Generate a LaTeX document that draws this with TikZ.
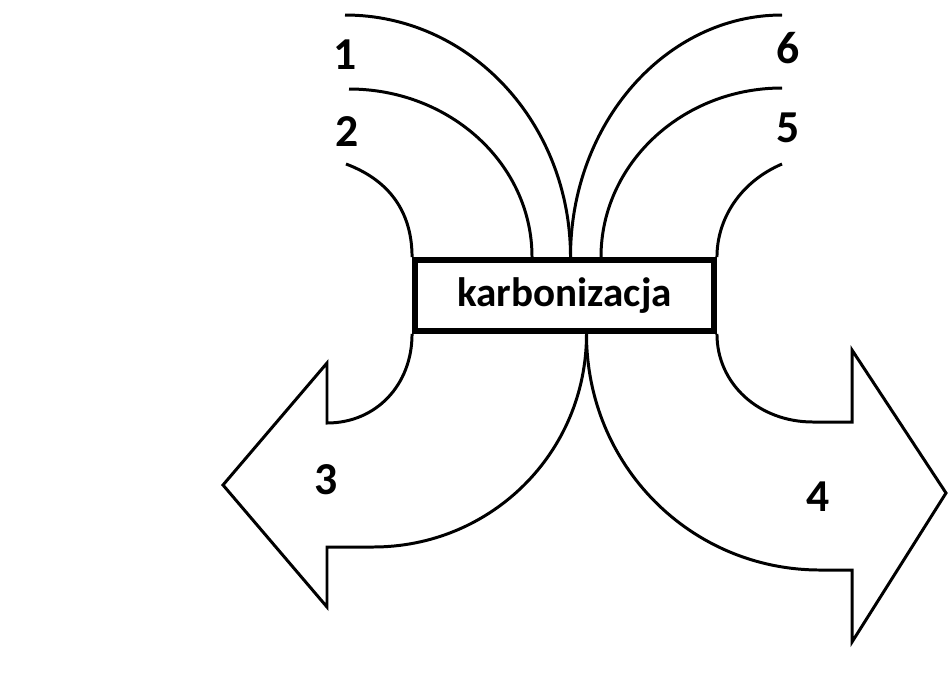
\documentclass[tikz,border=0pt]{standalone}
\usepackage{fontspec}
\setmainfont{Carlito}
\usetikzlibrary{positioning}

\begin{document}
\begin{tikzpicture}[
  x=0.02cm, y=-0.02cm,
  every node/.style={
    font=\fontsize{26}{30}\selectfont\bfseries, inner sep=0pt
  },
  procbox/.style={draw, line width=3.4pt, fill=white,
    minimum width=5.98cm, minimum height=1.42cm,
    font=\fontsize{23.4}{27}\selectfont\bfseries},
  flow/.style={draw, line width=1.7pt, line join=miter}
]
\useasboundingbox (0,0) rectangle (949,677);

\node[procbox] (kb) at (564.5,295.5) {karbonizacja};

\coordinate (l1) at (345,15);
\coordinate (l2) at (349,89);
\coordinate (l3) at (346,164);
\coordinate (r1) at (782,15);
\coordinate (r2) at (782,88);
\coordinate (r3) at (782,164);

\draw[flow] (l1) .. controls +(125,0) and +(0,-134) .. ([xshift=0.12cm]kb.north);
\draw[flow] (l2) .. controls +(101,0) and +(0,-93) .. ([xshift=-0.65cm]kb.north);
\draw[flow] (l3) .. controls +(48,18) and +(0,-40) .. (kb.north west);
\draw[flow] (r1) .. controls +(-116,0) and +(0,-134) .. ([xshift=0.12cm]kb.north);
\draw[flow] (r2) .. controls +(-100,0) and +(0,-93) .. ([xshift=0.73cm]kb.north);
\draw[flow] (r3) .. controls +(-42,18) and +(0,-38) .. (kb.north east);

\coordinate (a3) at (327,423);
\coordinate (b3) at (327,363);
\coordinate (tip3) at (223,485);
\coordinate (c3) at (327,607);
\coordinate (d3) at (327,547);
\coordinate (e3) at (373,547);
\draw[flow] (kb.south west) .. controls +(0,51) and +(49,0) .. (a3)
  -- (b3) -- (tip3) -- (c3) -- (d3) -- (e3)
  .. controls +(118,0) and +(0,119) .. ([xshift=0.44cm]kb.south);

\coordinate (a4) at (813,422);
\coordinate (b4) at (852,422);
\coordinate (n4) at (852,350);
\coordinate (tip4) at (946,493);
\coordinate (c4) at (852,642);
\coordinate (d4) at (852,570);
\coordinate (e4) at (820,570);
\draw[flow] (kb.south east) .. controls +(0,50) and +(-54,0) .. (a4)
  -- (b4) -- (n4) -- (tip4) -- (c4) -- (d4) -- (e4)
  .. controls +(-129,0) and +(0,132) .. ([xshift=0.44cm]kb.south);

\node (t1) at (345,55) {1};
\node (t2) at (347,132) {2};
\node (t6) at (788,48) {6};
\node (t5) at (788,128) {5};
\node (t3) at (326,480) {3};
\node (t4) at (818,497) {4};

\end{tikzpicture}
\end{document}
